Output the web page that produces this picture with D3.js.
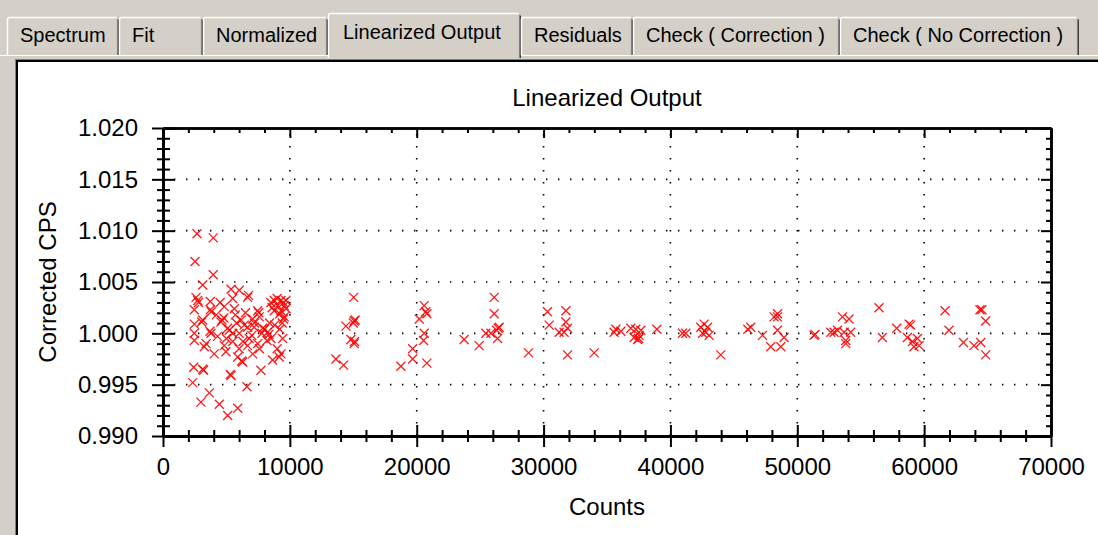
<!DOCTYPE html>
<html>
<head>
<meta charset="utf-8">
<script src="https://cdn.jsdelivr.net/npm/d3@7"></script>
<style>
  html, body { margin: 0; padding: 0; background: #d4d0c8; }
  svg { display: block; }
  text { font-family: "Liberation Sans", Arial, sans-serif; fill: #000; }
</style>
</head>
<body>
<svg id="chart" width="1098" height="535"></svg>
<script>
// ---- data ----
const tabNames = ["Spectrum", "Fit", "Normalized", "Linearized Output", "Residuals",
                  "Check ( Correction )", "Check ( No Correction )"];
const activeTab = "Linearized Output";

const chartTitle = "Linearized Output";
const xLabel = "Counts";
const yLabel = "Corrected CPS";

const xMajorTicks = [0, 10000, 20000, 30000, 40000, 50000, 60000, 70000];
const yMajorTicks = [0.990, 0.995, 1.000, 1.005, 1.010, 1.015, 1.020];

// counts (x) and corrected cps (y) of each measurement
const counts = [
  2680, 3960, 2520, 3960, 3130, 2600, 2730, 2800, 3730, 5360, 6010, 6670, 6750, 5490, 2470, 3730,
  3800, 4830, 5620, 7460, 7550, 8770, 9300, 9690, 9040, 9560, 9300, 8770, 9560, 9500, 3130, 3050,
  2470, 4570, 4650, 6150, 7070, 7590, 6670, 7190, 7860, 8250, 8350, 3780, 3700, 2470, 5220, 6010,
  8510, 9430, 2470, 3250, 4830, 5490, 6670, 7460, 4040, 4960, 5890, 6280, 6200, 7070, 8640, 9160,
  9300, 2420, 3130, 3200, 5360, 5300, 7720, 2340, 6620, 3650, 2990, 4440, 5890, 5100,
  6400, 5800, 4300, 5000, 8000, 8800, 9000, 4200, 5100, 7000, 8200, 6000, 4500, 3400, 9400,
  8500, 9000, 9500, 8600, 9200, 9700, 5700, 6500, 7200, 7800, 6800, 5500, 4800, 8400, 9200, 6300, 7600,
  15030, 15070, 15000, 15150, 14420, 14810, 15070, 15100, 13630, 14240,
  20590, 20720, 20800, 20200, 20590, 20540, 19680, 19680, 18750, 20800,
  26110, 26110, 26420, 26500, 26300, 25450, 25850, 26370, 24920, 23740, 28820,
  30310, 31760, 30440, 31230, 31760, 31890, 31620, 31890, 33990,
  35700, 36090, 35560, 36880, 37270, 37670, 37140, 37410, 37500, 37530, 38930,
  40950, 41210, 42390, 42920, 42790, 42530, 43050, 42660, 43970,
  46330, 46100, 47260, 48440, 48440, 48170, 48440, 48960, 47910, 48700,
  51320, 51400, 52640, 53170, 53560, 54080, 52900, 53690, 54210, 53820, 53820,
  56440, 56710, 57840, 58810, 58940, 58680, 59080, 59470, 59200, 59600,
  61650, 61960, 63100, 63930, 64460, 64400, 64550, 64850, 64850
];
const cps = [
  1.0097, 1.0093, 1.0070, 1.0057, 1.0047, 1.0035, 1.0032, 1.0030, 1.0031, 1.0043, 1.0042, 1.0035, 1.0037, 1.0034, 1.0023, 1.0023,
  1.0021, 1.0026, 1.0024, 1.0022, 1.0020, 1.0032, 1.0032, 1.0032, 1.0027, 1.0027, 1.0022, 1.0022, 1.0016, 1.0014, 1.0013, 1.0011,
  1.0009, 1.0011, 1.0013, 1.0013, 1.0014, 1.0016, 1.0006, 1.0006, 1.0005, 1.0001, 0.9999, 1.0000, 1.0002, 1.0000, 1.0003, 1.0000,
  0.9995, 0.9995, 0.9993, 0.9987, 0.9988, 0.9992, 0.9988, 0.9990, 0.9980, 0.9982, 0.9977, 0.9972, 0.9973, 0.9980, 0.9974, 0.9977,
  0.9980, 0.9967, 0.9965, 0.9964, 0.9959, 0.9960, 0.9964, 0.9952, 0.9948, 0.9942, 0.9933, 0.9931, 0.9927, 0.9920,
  1.0008, 1.0010, 0.9997, 0.9995, 1.0004, 1.0008, 0.9985, 1.0018, 1.0005, 0.9998, 0.9993, 0.9985, 1.0030, 0.9990, 1.0010,
  1.0030, 1.0034, 1.0030, 1.0025, 1.0019, 1.0024, 1.0018, 1.0020, 1.0010, 1.0000, 0.9995, 1.0000, 1.0015, 1.0010, 1.0004, 0.9992, 0.9985,
  1.0035, 1.0012, 1.0010, 1.0013, 1.0007, 0.9994, 0.9990, 0.9992, 0.9975, 0.9969,
  1.0027, 1.0021, 1.0019, 1.0014, 1.0000, 0.9993, 0.9985, 0.9975, 0.9968, 0.9971,
  1.0035, 1.0019, 1.0005, 1.0006, 1.0003, 1.0000, 1.0000, 0.9995, 0.9988, 0.9994, 0.9981,
  1.0021, 1.0022, 1.0008, 1.0001, 1.0011, 1.0005, 1.0001, 0.9979, 0.9981,
  1.0004, 1.0002, 1.0001, 1.0005, 1.0004, 1.0003, 0.9996, 0.9994, 0.9995, 0.9998, 1.0004,
  1.0000, 1.0000, 1.0006, 1.0006, 1.0001, 1.0000, 0.9998, 1.0009, 0.9979,
  1.0006, 1.0004, 0.9998, 1.0019, 1.0016, 1.0016, 1.0003, 0.9996, 0.9987, 0.9987,
  0.9998, 0.9999, 1.0001, 1.0003, 1.0016, 1.0014, 1.0001, 1.0001, 1.0001, 0.9993, 0.9990,
  1.0025, 0.9996, 1.0005, 1.0009, 1.0008, 0.9996, 0.9992, 0.9995, 0.9987, 0.9988,
  1.0022, 1.0003, 0.9991, 0.9988, 0.9991, 1.0023, 1.0023, 1.0012, 0.9979
];

// ---- layout ----
const W = 1098, H = 535;
const plot = { left: 163, right: 1051, top: 128, bottom: 436 };
const tabEdges = [7, 119, 203, 328, 521, 633, 840, 1079];

const svg = d3.select("#chart");

// window background and white chart panel
svg.append("rect").attr("width", W).attr("height", H).attr("fill", "#d4d0c8");
svg.append("line").attr("x1", 0).attr("x2", W).attr("y1", 55.5).attr("y2", 55.5)
  .attr("stroke", "#ffffff").attr("stroke-width", 1);
svg.append("rect").attr("x", 15).attr("y", 59).attr("width", W - 15).attr("height", H - 59)
  .attr("fill", "#808080");
svg.append("rect").attr("x", 16).attr("y", 60).attr("width", W - 16).attr("height", H - 60)
  .attr("fill", "#000");
svg.append("rect").attr("x", 18).attr("y", 62).attr("width", W - 18).attr("height", H - 62)
  .attr("fill", "#ffffff");

// tab strip
const tabs = svg.append("g");
tabNames.forEach((name, i) => {
  const x0 = tabEdges[i], x1 = tabEdges[i + 1];
  const active = name === activeTab;
  const top = active ? 13 : 17;
  const bottom = active ? 58 : 55;
  const g = tabs.append("g");
  g.append("rect").attr("x", x0).attr("y", top).attr("width", x1 - x0).attr("height", bottom - top)
    .attr("fill", "#d4d0c8");
  // highlight (left/top) and shadow (right)
  g.append("path")
    .attr("d", `M${x0 + 0.5},${bottom} V${top + 2.5} Q${x0 + 0.5},${top + 0.5} ${x0 + 2.5},${top + 0.5} H${x1 - 2.5}`)
    .attr("fill", "none").attr("stroke", "#ffffff").attr("stroke-width", 1.5);
  g.append("path")
    .attr("d", `M${x1 - 1.5},${top + 2} V${bottom}`)
    .attr("fill", "none").attr("stroke", "#808080").attr("stroke-width", 1.2);
  g.append("path")
    .attr("d", `M${x1 - 0.5},${top + 2.5} V${bottom}`)
    .attr("fill", "none").attr("stroke", "#404040").attr("stroke-width", 1);
  g.append("text")
    .attr("x", x0 + (active ? 15 : 13))
    .attr("y", active ? 38.5 : 41.5)
    .attr("font-size", 20)
    .text(name);
});

// ---- scales ----
const x = d3.scaleLinear().domain([0, 70000]).range([plot.left, plot.right]);
const y = d3.scaleLinear().domain([0.990, 1.020]).range([plot.bottom, plot.top]);

const xMinorTicks = d3.range(0, 70001, 2000).filter(v => v % 10000 !== 0);
const yMinorTicks = d3.range(990, 1021, 1).filter(v => v % 5 !== 0).map(v => v / 1000);

const chart = svg.append("g");

// dotted grid at major ticks
const grid = chart.append("g")
  .attr("stroke", "#000").attr("stroke-width", 1.6)
  .attr("stroke-dasharray", "1.4,10.6").attr("stroke-linecap", "butt");
grid.selectAll("line.gx").data(xMajorTicks.slice(1, -1)).join("line")
  .attr("x1", d => x(d)).attr("x2", d => x(d))
  .attr("y1", plot.top + 6).attr("y2", plot.bottom);
grid.selectAll("line.gy").data(yMajorTicks.slice(1, -1)).join("line")
  .attr("x1", plot.left + 11).attr("x2", plot.right)
  .attr("y1", d => y(d)).attr("y2", d => y(d));

// markers: red crosses
const r = 4.5;
const marks = chart.append("g").attr("stroke", "#ff0000").attr("stroke-width", 1.3)
  .attr("fill", "none").attr("stroke-opacity", 0.9);
marks.selectAll("path").data(d3.range(counts.length)).join("path")
  .attr("d", i => {
    const cx = x(counts[i]), cy = y(cps[i]);
    return `M${cx - r},${cy - r}L${cx + r},${cy + r}M${cx - r},${cy + r}L${cx + r},${cy - r}`;
  });

// ---- axes ----
function styleAxis(g, width) {
  g.select(".domain").attr("stroke", "#000").attr("stroke-width", width);
  g.selectAll(".tick line").attr("stroke", "#000").attr("stroke-width", 2);
}
const fmtY = d3.format(".3f");

// left axis: labelled, ticks crossing the line
const leftMajOut = chart.append("g").attr("transform", `translate(${plot.left},0)`)
  .call(d3.axisLeft(y).tickValues(yMajorTicks).tickFormat(fmtY).tickSize(11).tickSizeOuter(0).tickPadding(14));
leftMajOut.selectAll("text").attr("font-size", 24).attr("font-family", "Liberation Sans, Arial, sans-serif").attr("fill", "#000");
styleAxis(leftMajOut, 2.5);
styleAxis(chart.append("g").attr("transform", `translate(${plot.left},0)`)
  .call(d3.axisRight(y).tickValues(yMajorTicks).tickFormat("").tickSize(12).tickSizeOuter(0)), 2.5);
styleAxis(chart.append("g").attr("transform", `translate(${plot.left},0)`)
  .call(d3.axisLeft(y).tickValues(yMinorTicks).tickFormat("").tickSize(6).tickSizeOuter(0)), 2.5);
styleAxis(chart.append("g").attr("transform", `translate(${plot.left},0)`)
  .call(d3.axisRight(y).tickValues(yMinorTicks).tickFormat("").tickSize(7).tickSizeOuter(0)), 2.5);

// bottom axis: labelled, ticks crossing the line
const bottomMaj = chart.append("g").attr("transform", `translate(0,${plot.bottom})`)
  .call(d3.axisBottom(x).tickValues(xMajorTicks).tickFormat(d3.format("d")).tickSize(11).tickSizeOuter(0).tickPadding(11));
bottomMaj.selectAll("text").attr("font-size", 24).attr("font-family", "Liberation Sans, Arial, sans-serif").attr("fill", "#000");
styleAxis(bottomMaj, 2.5);
styleAxis(chart.append("g").attr("transform", `translate(0,${plot.bottom})`)
  .call(d3.axisTop(x).tickValues(xMajorTicks).tickFormat("").tickSize(11).tickSizeOuter(0)), 2.5);
styleAxis(chart.append("g").attr("transform", `translate(0,${plot.bottom})`)
  .call(d3.axisBottom(x).tickValues(xMinorTicks).tickFormat("").tickSize(6).tickSizeOuter(0)), 2.5);
styleAxis(chart.append("g").attr("transform", `translate(0,${plot.bottom})`)
  .call(d3.axisTop(x).tickValues(xMinorTicks).tickFormat("").tickSize(6).tickSizeOuter(0)), 2.5);

// top and right frame: inward ticks only
styleAxis(chart.append("g").attr("transform", `translate(0,${plot.top})`)
  .call(d3.axisBottom(x).tickValues(xMajorTicks).tickFormat("").tickSize(10).tickSizeOuter(0)), 2.5);
styleAxis(chart.append("g").attr("transform", `translate(0,${plot.top})`)
  .call(d3.axisBottom(x).tickValues(xMinorTicks).tickFormat("").tickSize(5).tickSizeOuter(0)), 2.5);
styleAxis(chart.append("g").attr("transform", `translate(${plot.right},0)`)
  .call(d3.axisLeft(y).tickValues(yMajorTicks).tickFormat("").tickSize(10).tickSizeOuter(0)), 2.5);
styleAxis(chart.append("g").attr("transform", `translate(${plot.right},0)`)
  .call(d3.axisLeft(y).tickValues(yMinorTicks).tickFormat("").tickSize(5).tickSizeOuter(0)), 2.5);

// ---- titles ----
chart.append("text").attr("x", (plot.left + plot.right) / 2).attr("y", 106)
  .attr("text-anchor", "middle").attr("font-size", 24).text(chartTitle);
chart.append("text").attr("x", (plot.left + plot.right) / 2).attr("y", 515)
  .attr("text-anchor", "middle").attr("font-size", 24).text(xLabel);
chart.append("text")
  .attr("transform", `translate(56,${(plot.top + plot.bottom) / 2}) rotate(-90)`)
  .attr("text-anchor", "middle").attr("font-size", 24).text(yLabel);
</script>
</body>
</html>
